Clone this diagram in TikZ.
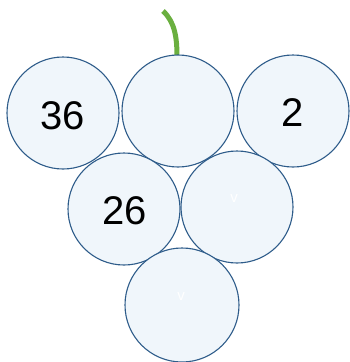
\documentclass[tikz,border=0pt]{standalone}
\usepackage{fontspec}
\setmainfont{Liberation Sans}
\definecolor{grapefill}{HTML}{F0F6FB}
\definecolor{grapeline}{HTML}{2E5C8A}
\definecolor{stemgreen}{HTML}{6AAF3F}
\begin{document}
\begin{tikzpicture}[x=1pt,y=-1pt,
  grape/.style={circle,draw=grapeline,fill=grapefill,line width=1.1pt,minimum size=112pt,inner sep=0pt},
  num/.style={font=\fontsize{40}{42}\selectfont,text=black},
  vlab/.style={font=\fontsize{15}{17}\selectfont,text=white}]
\useasboundingbox (0,0) rectangle (349,362);
\draw[stemgreen,line width=5pt] (163,11) .. controls (175,22) and (177,38) .. (177,57) coordinate (stembase);
\node[grape] (g1) at (63,113) {};
\node[grape] (g2) at (178,111) {};
\node[grape] (g3) at (293,111) {};
\node[grape] (g4) at (124,209) {};
\node[grape] (g5) at (237,207) {};
\node[grape,minimum size=114pt] (g6) at (182,305) {};
\node[num] (t1) at (63,116) {36};
\node[num] (t3) at (293,113) {2};
\node[num] (t4) at (125,211) {26};
\node[vlab] (v5) at (234,199) {v};
\node[vlab] (v6) at (181,297) {v};
\end{tikzpicture}
\end{document}
